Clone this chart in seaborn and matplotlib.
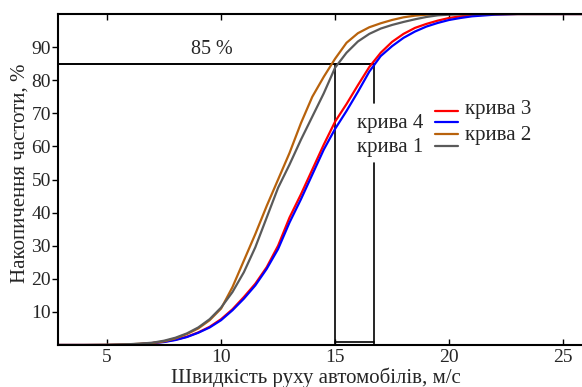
import matplotlib
matplotlib.use("Agg")
import matplotlib.pyplot as plt
import seaborn as sns
import pandas as pd

# ---- data ----
speed = [2.5, 4, 5, 6, 6.5, 7, 7.5, 8, 8.5, 9, 9.5, 10, 10.5, 11, 11.5, 12, 12.5,
         13, 13.5, 14, 14.5, 15, 15.5, 16, 16.5, 17, 17.5, 18, 18.5, 19, 19.5,
         20, 20.5, 21, 22, 23, 26]
curve1 = [0, 0, 0.05, 0.25, 0.45, 0.7, 1.3, 2.2, 3.5, 5.3, 7.8, 11.3, 16, 22, 29.5,
          38.5, 47.5, 54.5, 62, 69, 76, 83.8, 88.3, 91.7, 94, 95.6, 96.7, 97.6,
          98.4, 99.1, 99.6, 99.8, 99.9, 100, 100, 100, 100]
curve2 = [0, 0, 0.05, 0.2, 0.4, 0.6, 1.1, 2.0, 3.3, 5.0, 7.5, 11.0, 17.5, 25.5, 33.5,
          42, 50, 58, 67, 75, 81, 86.5, 91.3, 94.2, 96, 97.2, 98.2, 99, 99.5,
          99.8, 99.9, 100, 100, 100, 100, 100, 100]
curve3 = [0, 0, 0, 0.1, 0.3, 0.6, 1.0, 1.6, 2.5, 3.8, 5.5, 7.8, 10.8, 14.5, 18.5,
          23.5, 30, 38.5, 45.5, 53, 60.5, 67.5, 72.8, 78.5, 84, 88.3, 91.6, 94,
          95.8, 97, 98, 98.8, 99.3, 99.6, 99.9, 100, 100]
curve4 = [0, 0, 0, 0.1, 0.3, 0.6, 0.9, 1.5, 2.4, 3.7, 5.3, 7.5, 10.5, 14, 18,
          23, 29, 37, 44, 51.5, 59, 65.3, 70.7, 76.5, 82.6, 87.3, 90.3, 92.8,
          94.7, 96.2, 97.3, 98.2, 98.8, 99.3, 99.8, 100, 100]
curve_names = ["крива 3", "крива 4", "крива 2", "крива 1"]
level = 85
level_speeds = [15.0, 16.7]
x_ticks = [5, 10, 15, 20, 25]
y_ticks = [10, 20, 30, 40, 50, 60, 70, 80, 90]

colors = {"крива 3": "#ff0000", "крива 4": "#0000ff",
          "крива 2": "#b8620c", "крива 1": "#5a5a5a"}

series = {"крива 1": curve1, "крива 2": curve2, "крива 3": curve3, "крива 4": curve4}
rows = []
for name in curve_names:
    for s, v in zip(speed, series[name]):
        rows.append({"speed": s, "freq": v, "curve": name})
df = pd.DataFrame(rows)

sns.set_style("ticks")
plt.rcParams["font.family"] = ["Liberation Serif", "DejaVu Serif"]
plt.rcParams["font.size"] = 15

fig = plt.figure(figsize=(5.82, 3.87), dpi=100)
ax = fig.add_axes([58 / 582, 42 / 387, 528 / 582, 331 / 387])

sns.lineplot(data=df, x="speed", y="freq", hue="curve", hue_order=curve_names,
             palette=colors, linewidth=1.6, estimator=None, legend=False, ax=ax)

ax.set_xlim(2.85, 26.0)
ax.set_ylim(0, 100)

# reference lines for 85 %
ax.plot([2.85, level_speeds[1]], [level, level], color="black", lw=1.4, zorder=1)
ax.plot([level_speeds[0], level_speeds[0]], [0, level], color="black", lw=1.2, zorder=1)
ax.plot([level_speeds[1], level_speeds[1]], [level, 73], color="black", lw=1.2, zorder=1)
ax.plot([level_speeds[1], level_speeds[1]], [55, 0], color="black", lw=1.2, zorder=1)
ax.plot(level_speeds, [1, 1], color="black", lw=1.2, zorder=1)
ax.text(9.6, 86.3, "85 %", ha="center", va="bottom", fontsize=14.5)

# custom legend
lx = [19.39, 20.39]
ly = {"крива 3": 70.6, "крива 4": 67.3, "крива 2": 63.6, "крива 1": 60.0}
for name in curve_names:
    ax.plot(lx, [ly[name], ly[name]], color=colors[name], lw=1.6)
ax.text(20.7, 71.1, "крива 3", ha="left", va="center", fontsize=15)
ax.text(20.7, 63.4, "крива 2", ha="left", va="center", fontsize=15)
ax.text(18.86, 67.0, "крива 4", ha="right", va="center", fontsize=15)
ax.text(18.86, 59.8, "крива 1", ha="right", va="center", fontsize=15)

ax.set_xticks(x_ticks)
ax.set_xticklabels([str(t) for t in x_ticks])
ax.set_yticks(y_ticks)
ax.set_yticklabels([str(t) for t in y_ticks])
ax.tick_params(axis="x", direction="in", length=4, width=1.0, top=True,
               labelsize=14, pad=3, color="black")
ax.tick_params(axis="y", direction="out", length=4, width=1.0,
               labelsize=14, pad=1, color="black")
for sp in ax.spines.values():
    sp.set_linewidth(1.5)
    sp.set_color("black")

ax.set_xlabel("Швидкість руху автомобілів, м/с", fontsize=15)
ax.xaxis.label.set_verticalalignment("center")
ax.xaxis.set_label_coords((316 - 58) / 528, -0.10)
ax.set_ylabel("Накопичення частоти, %", fontsize=15)
ax.yaxis.label.set_verticalalignment("center")
ax.yaxis.set_label_coords(-0.071, 0.52)

fig.savefig("out.png", dpi=100)
